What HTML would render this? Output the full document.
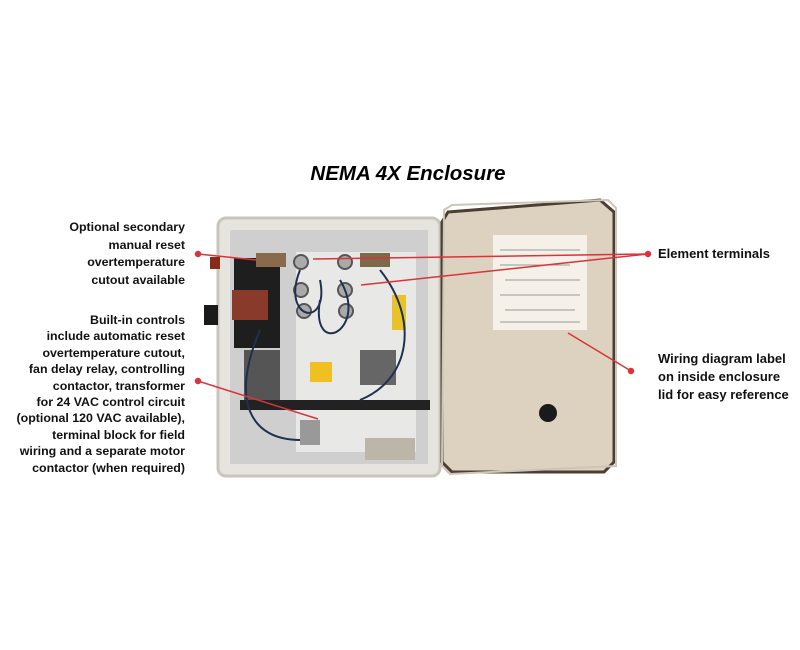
<!DOCTYPE html>
<html><head><style>
body{margin:0;width:800px;height:650px;background:#fff;overflow:hidden;font-family:"Liberation Sans",Arial,sans-serif;position:relative}
.t{position:absolute;font-weight:bold;font-size:12.5px;line-height:18px;color:#111}
.l{font-size:12.4px;text-align:right}
</style></head><body>
<div style="position:absolute;left:8px;width:800px;top:162px;text-align:center;font-size:20.5px;font-weight:bold;font-style:italic">NEMA 4X Enclosure</div>
<div class="t l" style="right:615px;top:219px;line-height:17.6px">Optional secondary<br>manual reset<br>overtemperature<br>cutout available</div>
<div class="t l" style="right:615px;top:312px;line-height:16.4px">Built-in controls<br>include automatic reset<br>overtemperature cutout,<br>fan delay relay, controlling<br>contactor, transformer<br>for 24 VAC control circuit<br>(optional 120 VAC available),<br>terminal block for field<br>wiring and a separate motor<br>contactor (when required)</div>
<div class="t" style="left:658px;top:245px;font-size:13px">Element terminals</div>
<div class="t" style="left:658px;top:350px;font-size:13px">Wiring diagram label<br>on inside enclosure<br>lid for easy reference</div>
<svg width="800" height="650" style="position:absolute;left:0;top:0">
<rect x="218" y="218" width="222" height="258" rx="8" fill="#e6e4df" stroke="#c9c5bc" stroke-width="3"/>
<rect x="230" y="230" width="198" height="234" fill="#cfcfcf"/>
<rect x="296" y="252" width="120" height="200" fill="#e8e8e6"/>
<rect x="234" y="258" width="46" height="90" fill="#1e1e1e"/>
<rect x="232" y="290" width="36" height="30" fill="#8a3a2a"/>
<rect x="204" y="305" width="14" height="20" fill="#1a1a1a"/>
<rect x="210" y="257" width="10" height="12" fill="#8a2a1a"/>
<rect x="244" y="350" width="36" height="50" fill="#555"/>
<rect x="392" y="295" width="14" height="35" fill="#e8c22a"/>
<rect x="360" y="350" width="36" height="35" fill="#666"/>
<rect x="310" y="362" width="22" height="20" fill="#f0c020"/>
<rect x="240" y="400" width="190" height="10" fill="#222"/>
<rect x="365" y="438" width="50" height="22" fill="#bcb6a8"/>
<rect x="300" y="420" width="20" height="25" fill="#999"/>
<g fill="#aaa" stroke="#555" stroke-width="2">
<circle cx="301" cy="262" r="7"/><circle cx="345" cy="262" r="7"/><circle cx="301" cy="290" r="7"/><circle cx="345" cy="290" r="7"/><circle cx="304" cy="311" r="7"/><circle cx="346" cy="311" r="7"/>
</g>
<rect x="360" y="253" width="30" height="14" fill="#7a6a4a"/>
<rect x="256" y="253" width="30" height="14" fill="#8a6a4a"/>
<path d="M300 270 C280 320,330 330,320 280 M340 280 C370 330,310 360,320 300 M380 270 C420 320,410 380,360 400 M260 330 C230 400,250 440,300 440" fill="none" stroke="#203050" stroke-width="2"/>
<polygon points="448,212 600,200 614,212 614,462 604,472 452,472 442,462 442,222" fill="#ddd2bf" stroke="#4a3f32" stroke-width="3"/>
<polygon points="444,210 452,205 608,200 616,208 616,466 450,474 442,466" fill="none" stroke="#cdc6b8" stroke-width="2"/>
<rect x="493" y="235" width="94" height="95" fill="#f5f1e8"/>
<path d="M500 250h80M500 265h70M505 280h75M500 295h80M505 310h70M500 322h80" stroke="#999" stroke-width="1"/>
<circle cx="548" cy="413" r="9" fill="#1a1a1a"/>
<g stroke="#d8343a" stroke-width="1.5" fill="#d8343a">
<line x1="198" y1="254" x2="256" y2="260"/><circle cx="198" cy="254" r="2.5"/>
<line x1="648" y1="254" x2="313" y2="259"/><line x1="648" y1="254" x2="361" y2="285"/><circle cx="648" cy="254" r="2.5"/>
<line x1="198" y1="381" x2="318" y2="419"/><circle cx="198" cy="381" r="2.5"/>
<line x1="631" y1="371" x2="568" y2="333"/><circle cx="631" cy="371" r="2.5"/>
</g>
</svg>
</body></html>
